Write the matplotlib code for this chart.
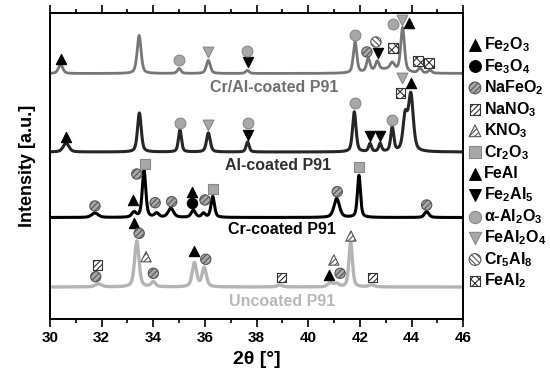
import numpy as np
import matplotlib
matplotlib.use("Agg")
import matplotlib.pyplot as plt

plt.rcParams['font.family'] = ['Liberation Sans', 'DejaVu Sans']
plt.rcParams['font.weight'] = 'bold'
plt.rcParams['mathtext.fontset'] = 'custom'
plt.rcParams['mathtext.rm'] = 'Liberation Sans:bold'
plt.rcParams['mathtext.it'] = 'Liberation Sans:bold'
plt.rcParams['mathtext.bf'] = 'Liberation Sans:bold'
plt.rcParams['mathtext.default'] = 'bf'
plt.rcParams['hatch.linewidth'] = 0.8

# ---------------- data: peak tables (2theta, height, FWHM) ----------------
two_theta = np.linspace(30, 46, 3201)

cral_pos = [30.41, 33.45, 35.00, 36.13, 37.64, 41.81, 42.32, 42.67, 43.25, 43.65, 44.32, 44.71, 43.0]
cral_hgt = [9, 38, 5, 13, 3, 31, 13, 9, 7, 44, 5, 3, 4]
cral_wid = [0.2, 0.18, 0.16, 0.18, 0.16, 0.16, 0.16, 0.16, 0.2, 0.17, 0.16, 0.16, 1.2]
cral_base = 245.5

al_pos = [30.62, 33.46, 35.03, 36.13, 37.65, 41.78, 42.39, 42.78, 43.25, 43.75, 43.97]
al_hgt = [9, 39, 22, 19, 10, 40, 8, 8, 24, 34, 56]
al_wid = [0.26, 0.17, 0.14, 0.17, 0.14, 0.16, 0.13, 0.13, 0.14, 0.2, 0.22]
al_base = 167.0

cr_pos = [31.74, 33.25, 33.64, 34.13, 34.68, 35.55, 35.94, 36.30, 41.10, 41.96, 44.58]
cr_hgt = [4.5, 5, 47, 4, 9, 7, 4, 21, 19, 42, 6]
cr_wid = [0.3, 0.2, 0.16, 0.2, 0.25, 0.2, 0.16, 0.16, 0.25, 0.14, 0.2]
cr_base = 101.5

unc_pos = [31.87, 33.36, 34.00, 35.59, 35.97, 38.90, 40.86, 41.10, 41.64, 42.45]
unc_hgt = [3, 46, 5, 24, 19, 2, 4, 3, 45, 2]
unc_wid = [0.3, 0.2, 0.2, 0.2, 0.2, 0.25, 0.25, 0.2, 0.16, 0.25]
unc_base = 32.0

# phase markers (2theta, y)
fe2o3_x = [30.41, 30.62, 33.20, 33.25, 35.51, 35.57, 40.81]
fe2o3_y = [260, 182, 119, 96.3, 127.3, 68.3, 44]
feal_x = [43.90, 43.96]
feal_y = [296, 236]
fe3o4_x = [35.51]
fe3o4_y = [116.3]
nafeo2_x = [42.27, 31.74, 33.36, 34.07, 34.71, 36.00, 41.12, 44.58, 31.77, 33.45, 34.00, 36.03, 41.23]
nafeo2_y = [267, 113, 145, 116.3, 117.3, 119, 127.3, 114, 42.3, 85.7, 45.7, 59.7, 45.7]
nano3_x = [31.83, 38.97, 42.48]
nano3_y = [54, 41.7, 41.7]
kno3_x = [33.72, 40.99, 41.65]
kno3_y = [62.3, 59, 83]
cr2o3_x = [33.68, 36.32, 41.96]
cr2o3_y = [155, 129.7, 151.7]
fe2al5_x = [37.67, 42.70, 37.67, 42.39, 42.78]
fe2al5_y = [257, 266, 184, 183, 183]
al2o3_x = [35.00, 37.63, 41.81, 43.28, 35.03, 37.67, 41.81, 43.24]
al2o3_y = [259, 268, 284, 295, 196, 196, 216, 199]
feal2o4_x = [36.12, 43.63, 36.12, 43.62]
feal2o4_y = [267, 299, 194, 241]
cr5al8_x = [42.62]
cr5al8_y = [277]
feal2_x = [43.28, 44.25, 44.67, 43.58]
feal2_y = [271, 258, 256, 226]

sample_labels = ["Cr/Al-coated P91", "Al-coated P91", "Cr-coated P91", "Uncoated P91"]
x_ticks = [30, 32, 34, 36, 38, 40, 42, 44, 46]


def pattern(pos, hgt, wid, base):
    y = np.full_like(two_theta, base)
    for c, h, w in zip(pos, hgt, wid):
        d = (two_theta - c) / w
        y += h * (0.5 * np.exp(-4 * np.log(2) * d ** 2) + 0.5 / (1 + 4 * d ** 2))
    return y


fig = plt.figure(figsize=(5.5, 3.91), dpi=100)
ax = fig.add_axes([50 / 550, 1 - 319 / 391, 413.3 / 550, 306 / 391])

ax.plot(two_theta, pattern(unc_pos, unc_hgt, unc_wid, unc_base), color='#b4b4b4', lw=2.4)
ax.plot(two_theta, pattern(cr_pos, cr_hgt, cr_wid, cr_base), color='#000000', lw=2.2)
ax.plot(two_theta, pattern(al_pos, al_hgt, al_wid, al_base), color='#262626', lw=2.2)
ax.plot(two_theta, pattern(cral_pos, cral_hgt, cral_wid, cral_base), color='#767676', lw=2.0)

ax.set_xlim(30, 46)
ax.set_ylim(0, 306)

styles = {
    'fe2o3': dict(marker='^', facecolor='black', edgecolor='black', s=55),
    'fe3o4': dict(marker='o', facecolor='black', edgecolor='black', s=55),
    'nafeo2': dict(marker='o', facecolor='#a8a8a8', edgecolor='#555555', hatch='//////', s=55),
    'nano3': dict(marker='s', facecolor='white', edgecolor='#333333', hatch='//////', s=45),
    'kno3': dict(marker='^', facecolor='white', edgecolor='#555555', hatch='//////', s=55),
    'cr2o3': dict(marker='s', facecolor='#a8a8a8', edgecolor='#888888', s=55),
    'feal': dict(marker='^', facecolor='black', edgecolor='black', s=55),
    'fe2al5': dict(marker='v', facecolor='black', edgecolor='black', s=55),
    'al2o3': dict(marker='o', facecolor='#a8a8a8', edgecolor='#888888', s=60),
    'feal2o4': dict(marker='v', facecolor='#a8a8a8', edgecolor='#888888', s=60),
    'cr5al8': dict(marker='o', facecolor='white', edgecolor='#555555', hatch='\\\\\\\\\\\\', s=55),
    'feal2': dict(marker='s', facecolor='white', edgecolor='#333333', hatch='xxxx', s=45),
}

pts = {
    'fe2o3': (fe2o3_x, fe2o3_y), 'fe3o4': (fe3o4_x, fe3o4_y), 'nafeo2': (nafeo2_x, nafeo2_y),
    'nano3': (nano3_x, nano3_y), 'kno3': (kno3_x, kno3_y), 'cr2o3': (cr2o3_x, cr2o3_y),
    'feal': (feal_x, feal_y), 'fe2al5': (fe2al5_x, fe2al5_y), 'al2o3': (al2o3_x, al2o3_y),
    'feal2o4': (feal2o4_x, feal2o4_y), 'cr5al8': (cr5al8_x, cr5al8_y), 'feal2': (feal2_x, feal2_y),
}
for k, (xs, ys) in pts.items():
    ax.scatter(xs, ys, linewidths=0.8, zorder=5, clip_on=False, **styles[k])

lab_x = [38.67, 38.83, 38.98, 38.98]
lab_y = [231, 154, 89, 17.3]
lab_c = ['#707070', '#303030', '#000000', '#b8b8b8']
for t, lx, ly, lc in zip(sample_labels, lab_x, lab_y, lab_c):
    ax.text(lx, ly, t, color=lc, fontsize=11.5, fontweight='bold', ha='center', va='center')

ax.set_xticks(x_ticks)
ax.set_xticks(np.arange(31, 46, 2), minor=True)
ax.set_yticks([])
ax.tick_params(axis='x', which='both', direction='out', top=True, labeltop=False,
               labelsize=11, width=1.2)
ax.tick_params(axis='x', which='major', length=5.5)
ax.tick_params(axis='x', which='minor', length=3)
for lbl in ax.get_xticklabels():
    lbl.set_fontweight('bold')
for sp in ax.spines.values():
    sp.set_linewidth(1.4)
ax.set_xlabel('2θ [°]', fontsize=14, fontweight='bold', labelpad=4)
ax.set_ylabel('Intensity [a.u.]', fontsize=13, fontweight='bold', labelpad=10)

# legend drawn on its own panel
lax = fig.add_axes([463 / 550, 0, 87 / 550, 1])
lax.set_xlim(0, 87)
lax.set_ylim(391, 0)
lax.axis('off')
leg_keys = ['fe2o3', 'fe3o4', 'nafeo2', 'nano3', 'kno3', 'cr2o3', 'feal', 'fe2al5', 'al2o3',
            'feal2o4', 'cr5al8', 'feal2']
leg_names = [r'Fe$_2$O$_3$', r'Fe$_3$O$_4$', r'NaFeO$_2$', r'NaNO$_3$', r'KNO$_3$', r'Cr$_2$O$_3$',
             'FeAl', r'Fe$_2$Al$_5$', r'α-Al$_2$O$_3$', r'FeAl$_2$O$_4$', r'Cr$_5$Al$_8$', r'FeAl$_2$']
for i, (k, nm) in enumerate(zip(leg_keys, leg_names)):
    yy = 45 + i * 21.45
    st = dict(styles[k])
    st['s'] = st['s'] * 1.3
    lax.scatter([12], [yy], linewidths=0.8, clip_on=False, **st)
    lax.text(21, yy, nm, fontsize=11.5, fontweight='bold', va='center', ha='left')

fig.savefig('out.png', dpi=100)
